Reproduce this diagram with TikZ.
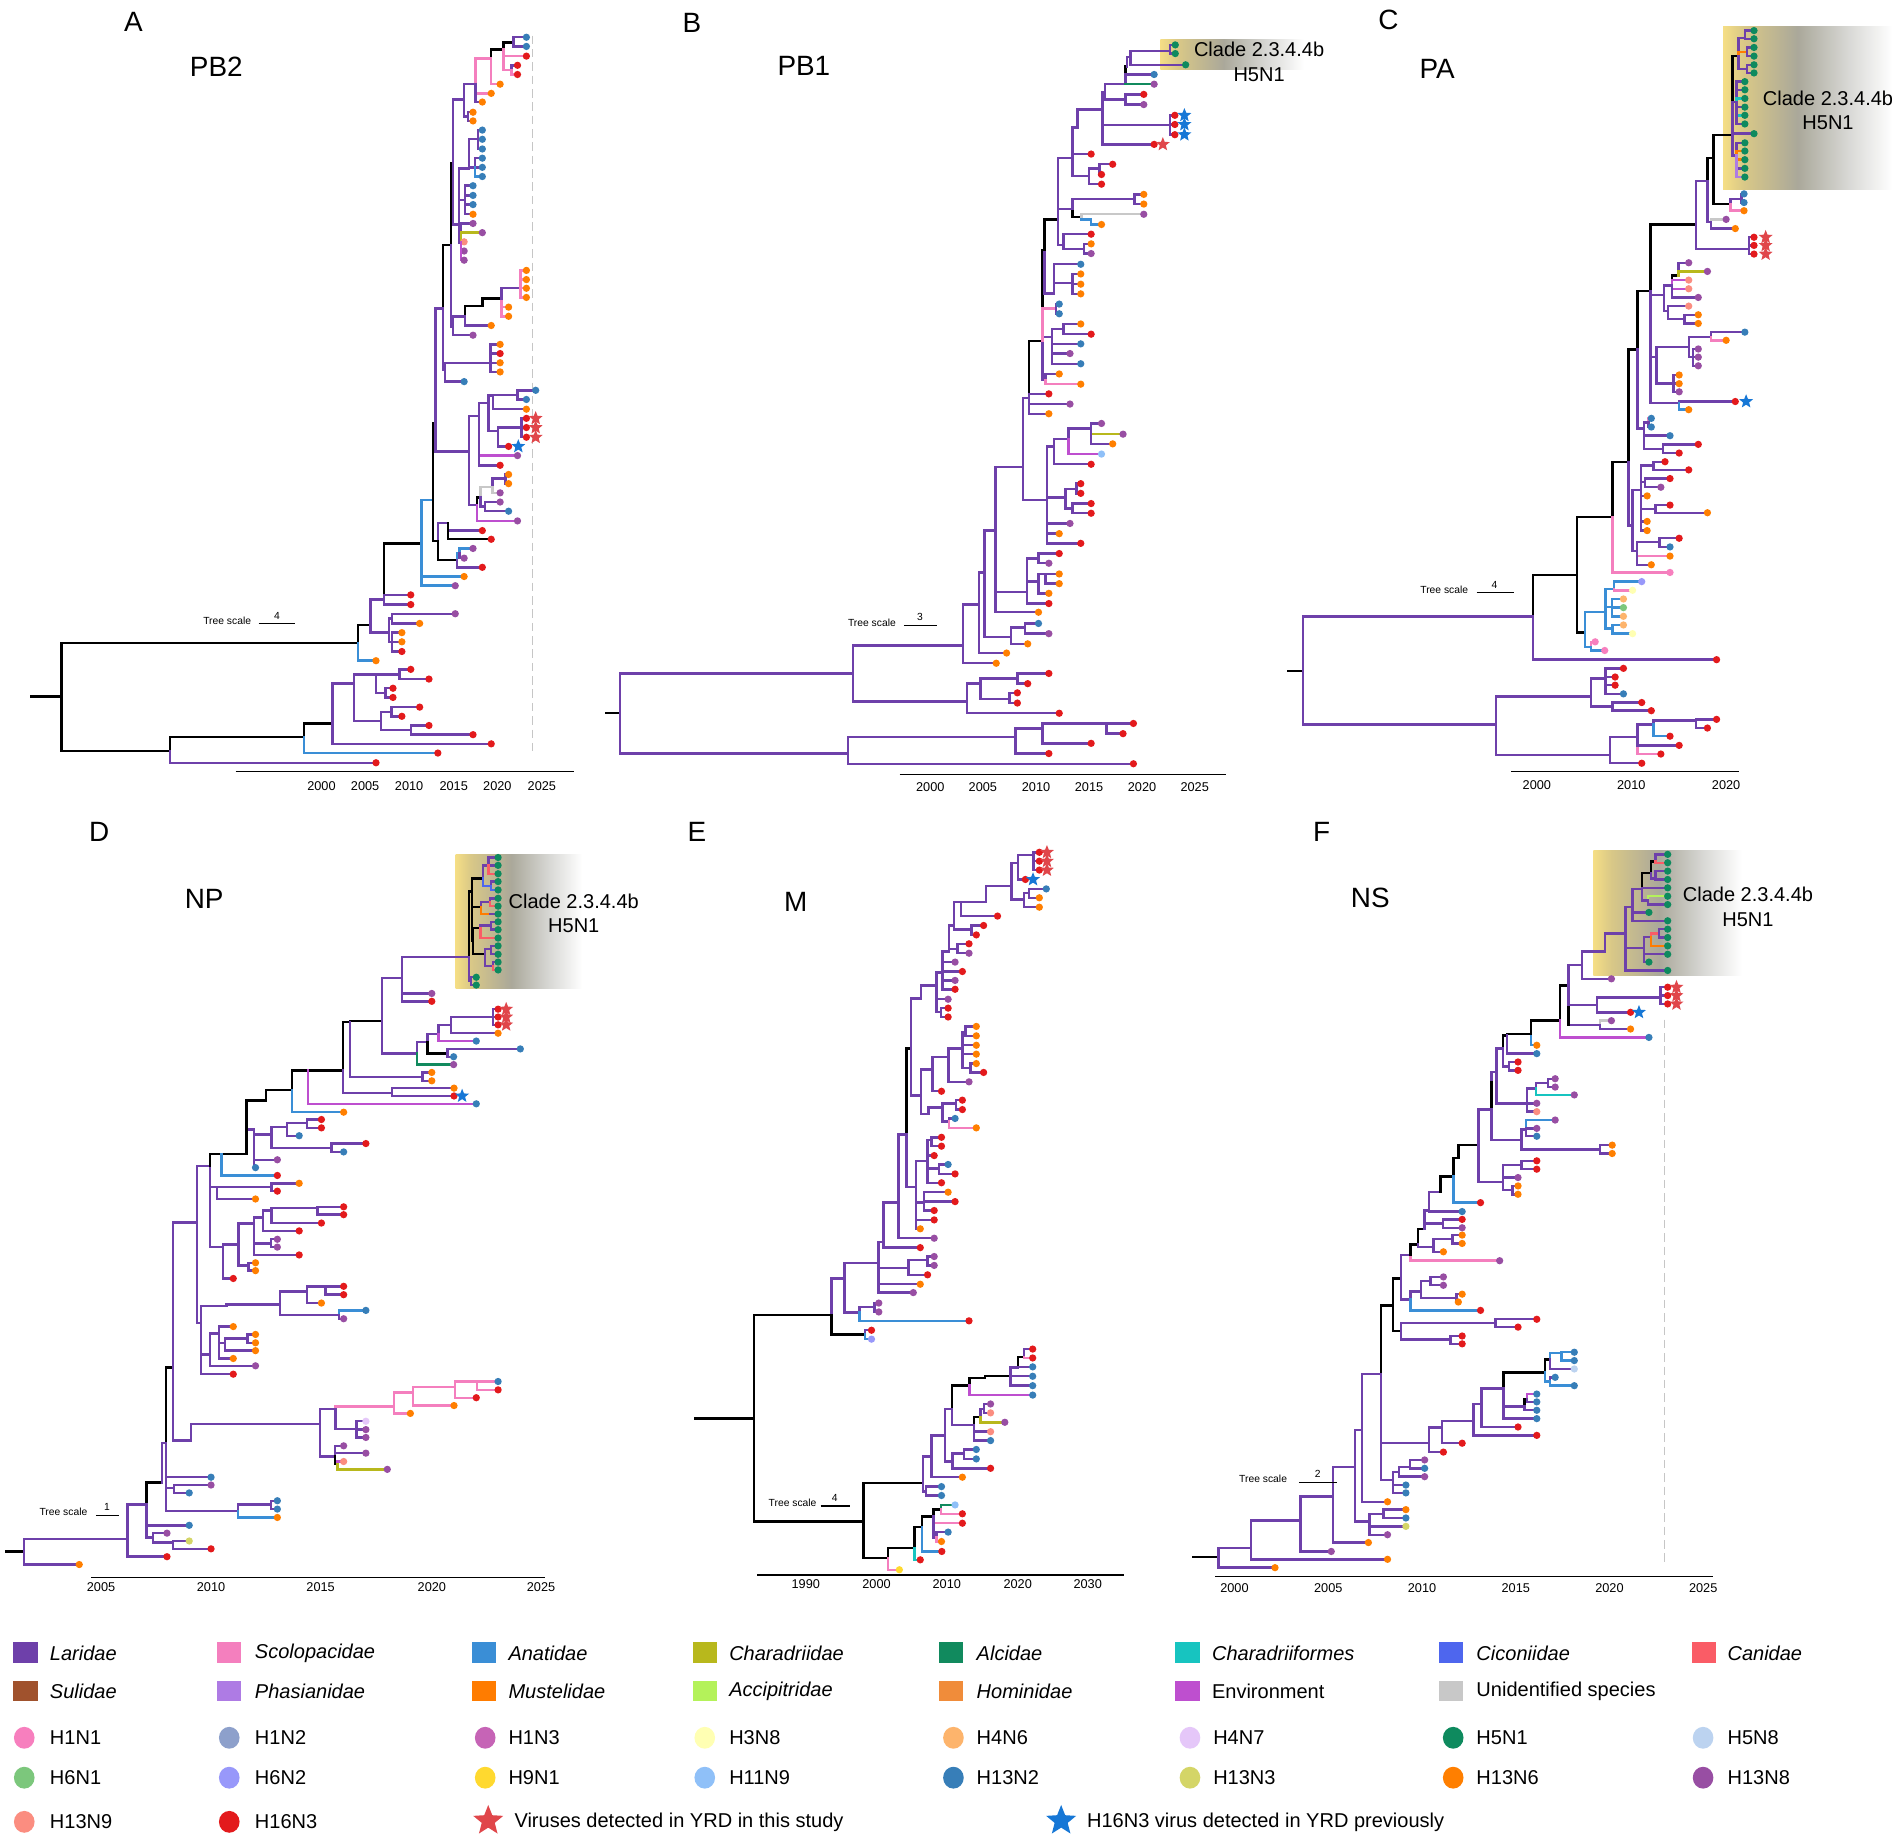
\documentclass[tikz,border=0pt]{standalone}
\usepackage{fontspec}
\setmainfont{Liberation Sans}
\usetikzlibrary{shapes.geometric}
\definecolor{cL}{HTML}{6E40AA}
\definecolor{cK}{HTML}{000000}
\definecolor{cS}{HTML}{F47FBE}
\definecolor{cA}{HTML}{3A8ED6}
\definecolor{cC}{HTML}{B8B81C}
\definecolor{cG}{HTML}{118A5E}
\definecolor{cT}{HTML}{17C4C0}
\definecolor{cCi}{HTML}{4E66EE}
\definecolor{cCa}{HTML}{FA5C66}
\definecolor{cSu}{HTML}{A0522D}
\definecolor{cPh}{HTML}{AE7BE4}
\definecolor{cM}{HTML}{FF7C00}
\definecolor{cAc}{HTML}{B4F25A}
\definecolor{cH}{HTML}{F08C3A}
\definecolor{cE}{HTML}{BE4FCF}
\definecolor{cU}{HTML}{C8C8C8}
\definecolor{dPk}{HTML}{F77FBE}
\definecolor{dHa}{HTML}{8DA0CB}
\definecolor{dHb}{HTML}{C664B6}
\definecolor{dY}{HTML}{FFFFB3}
\definecolor{dPe}{HTML}{FDB46C}
\definecolor{dL}{HTML}{E5C7F9}
\definecolor{dG}{HTML}{0E8A5E}
\definecolor{dHc}{HTML}{BCD3F0}
\definecolor{dGr}{HTML}{7CC77C}
\definecolor{dLP}{HTML}{9898FA}
\definecolor{dHd}{HTML}{FFD92F}
\definecolor{dLB}{HTML}{8FC0F8}
\definecolor{dB}{HTML}{377EB8}
\definecolor{dHe}{HTML}{D4D567}
\definecolor{dO}{HTML}{FF7F00}
\definecolor{dP}{HTML}{984EA3}
\definecolor{dS}{HTML}{FB8D80}
\definecolor{dR}{HTML}{E31A1C}
\definecolor{sR}{HTML}{E0464A}
\definecolor{sB}{HTML}{1677D6}
\definecolor{bY}{HTML}{F5DE85}
\definecolor{bYb}{HTML}{D9C887}
\definecolor{bG}{HTML}{AAA89A}
\definecolor{bGb}{HTML}{D8D8D5}
\pgfdeclarehorizontalshading{clade}{100bp}{color(0bp)=(bY); color(25bp)=(bY); color(31bp)=(bYb); color(47bp)=(bG); color(62bp)=(bGb); color(75bp)=(white); color(100bp)=(white)}
\newcommand\myfs[2]{\fontsize{#1}{#2}\selectfont}
\def\BR#1,#2,#3,#4,#5;{\draw[#5] (#1,#2) |- (#3,#4);}
\def\LF#1,#2,#3,#4,#5,#6;{\draw[#5] (#1,#2) |- (#3,#4);\node[tipdot,fill=#6] at (#3,#4) {};}
\def\RS#1,#2;{\node[rstar] at (#1,#2) {};}
\def\BS#1,#2;{\node[bstar] at (#1,#2) {};}
\tikzset{
  brn/.style={line width=2pt,line cap=rect},
  tipdot/.style={circle,inner sep=0pt,minimum size=6pt,draw=none},
  rstar/.style={star,star points=5,star point ratio=2.3,fill=sR,inner sep=0pt,minimum size=12pt},
  bstar/.style={star,star points=5,star point ratio=2.3,fill=sB,inner sep=0pt,minimum size=12pt},
  ptitle/.style={font=\myfs{23}{27}},
  axl/.style={font=\myfs{10.5}{12}},
  tsl/.style={font=\myfs{8.5}{10}},
  cl/.style={font=\myfs{16.5}{20},align=center},
  legt/.style={font=\myfs{16.5}{20},anchor=west,inner sep=0pt},
  gridl/.style={gray!45,line width=0.8pt,dash pattern=on 7pt off 4pt},
  axline/.style={line width=1pt,black}
}
\begin{document}
\begin{tikzpicture}[x=1pt,y=-1pt]
\fill[white] (0,0) rectangle (1568,1518);
\useasboundingbox (0,0) rectangle (1568,1518);
% clade boxes
\shade[shading=clade] (956.6,32.8) rectangle (1075,57.2);
\shade[shading=clade] (1420.6,21.9) rectangle (1560,156.5);
\shade[shading=clade] (375.6,704.8) rectangle (480,814.7);
\shade[shading=clade] (1313.6,701.3) rectangle (1436,803.9);
% grid lines
\draw[gridl] (438.7,29.4) -- (438.7,622.5);
\draw[gridl] (1372,840.6) -- (1372,1288.9);

%%%%%%%%%%%%%%%% PANEL A
\begin{scope}[brn,xscale=0.3333,yscale=0.4206]
\draw[cK] (78,1365) -- (152,1365);
\BR 152,1365,886,1260,cK;
\BR 152,1365,421,1472,cK;
\BR 421,1472,752,1445,cK;
\LF 421,1472,930,1495,cL,dR;
\BR 752,1445,822,1418,cK;
\LF 752,1445,1083,1476,cA,dR;
\BR 822,1418,876,1340,cL;
\LF 822,1418,1215,1458,cL,dR;
\BR 876,1340,930,1322,cL;
\BR 876,1340,942,1413,cL;
\BR 930,1322,988,1322,cL;
\LF 988,1322,1016,1312,cL,dR;
\LF 988,1322,1061,1331,cL,dR;
\BR 930,1322,953,1358,cL;
\LF 953,1358,972,1349,cL,dR;
\LF 953,1358,972,1367,cL,dR;
\BR 942,1413,968,1395,cL;
\LF 968,1395,1038,1386,cL,dR;
\LF 968,1395,994,1404,cL,dR;
\BR 942,1413,1016,1431,cL;
\LF 1016,1431,1061,1422,cL,dR;
\LF 1016,1431,1170,1440,cL,dR;
\BR 886,1260,916,1225,cK;
\LF 886,1260,930,1295,cA,dO;
\BR 916,1225,950,1175,cL;
\BR 916,1225,962,1240,cL;
\BR 962,1240,970,1212,cL;
\LF 970,1212,1126,1203,cL,dP;
\LF 970,1212,1038,1222,cL,dO;
\BR 962,1240,970,1258,cL;
\LF 970,1258,994,1240,cL,dO;
\LF 970,1258,994,1258,cL,dO;
\LF 970,1258,994,1277,cL,dR;
\BR 950,1175,987,1065,cK;
\LF 950,1175,1016,1166,cL,dR;
\LF 950,1175,1016,1185,cL,dR;
\BR 987,1065,1043,1065,cK;
\BR 1043,1065,1071,980,cA;
\LF 1043,1065,1148,1130,cA,dO;
\LF 1043,1065,1126,1148,cA,dP;
\BR 1071,980,1077,830,cK;
\BR 1071,980,1083,1060,cK;
\BR 1083,1060,1108,1025,cL;
\BR 1083,1060,1130,1098,cK;
\LF 1108,1025,1193,1040,cL,dR;
\LF 1108,1025,1215,1057,cK,dR;
\BR 1130,1098,1137,1085,cA;
\LF 1137,1085,1170,1075,cA,dP;
\LF 1137,1085,1148,1094,cL,dP;
\LF 1130,1098,1193,1112,cL,dR;
\BR 1077,830,1096,605,cL;
\BR 1077,830,1160,885,cL;
\BR 1160,885,1185,815,cL;
\BR 1160,885,1180,990,cL;
\BR 1180,990,1188,975,cK;
\LF 1180,990,1280,1021,cE,dP;
\BR 1188,975,1218,955,cU;
\BR 1218,955,1250,938,cL;
\LF 1250,938,1258,930,cL,dO;
\LF 1250,938,1258,948,cL,dO;
\LF 1218,955,1237,966,cU,dP;
\BR 1188,975,1200,993,cL;
\LF 1200,993,1237,984,cL,dP;
\LF 1200,993,1258,1002,cL,dB;
\BR 1185,815,1208,790,cL;
\LF 1185,815,1280,893,cE,dP;
\LF 1185,815,1237,912,cL,dR;
\BR 1208,790,1220,775,cL;
\BR 1208,790,1232,845,cL;
\BR 1220,775,1280,774,cL;
\LF 1280,774,1325,765,cL,dB;
\LF 1280,774,1302,783,cL,dB;
\LF 1220,775,1302,802,cL,dO;
\BR 1232,845,1290,838,cL;
\LF 1290,838,1302,820,cL,dR;
\LF 1290,838,1302,838,cL,dR;
\LF 1290,838,1302,857,cL,dR;
\LF 1232,845,1258,875,cL,dR;
\BR 1096,605,1115,480,cK;
\BR 1096,605,1100,725,cL;
\BR 1100,725,1213,712,cL;
\LF 1213,712,1237,675,cL,dO;
\LF 1213,712,1237,693,cL,dR;
\LF 1213,712,1237,711,cL,dO;
\LF 1213,712,1237,729,cL,dO;
\LF 1100,725,1148,748,cL,dB;
\BR 1115,480,1120,320,cK;
\BR 1115,480,1120,640,cL;
\BR 1120,640,1150,620,cL;
\LF 1120,640,1170,657,cL,dP;
\BR 1150,620,1193,600,cK;
\LF 1150,620,1215,638,cL,dO;
\BR 1193,600,1240,585,cK;
\LF 1240,585,1258,602,cS,dO;
\LF 1240,585,1258,620,cS,dO;
\BR 1240,585,1287,565,cL;
\LF 1287,565,1302,530,cS,dO;
\LF 1287,565,1302,548,cS,dO;
\LF 1287,565,1302,565,cS,dO;
\LF 1287,565,1302,583,cS,dO;
\BR 1120,320,1148,195,cL;
\BR 1120,320,1135,440,cL;
\BR 1148,195,1176,165,cL;
\BR 1148,195,1157,228,cL;
\LF 1157,228,1170,220,cL,dO;
\LF 1157,228,1170,237,cL,dO;
\BR 1176,165,1215,115,cS;
\LF 1176,165,1215,183,cS,dO;
\LF 1176,165,1193,200,cL,dO;
\BR 1215,115,1245,97,cK;
\LF 1215,115,1237,165,cS,dO;
\BR 1245,97,1270,83,cK;
\LF 1270,83,1302,73,cL,dB;
\LF 1270,83,1302,91,cL,dB;
\LF 1245,97,1302,110,cS,dR;
\BR 1245,97,1265,137,cS;
\LF 1265,137,1280,128,cL,dR;
\LF 1265,137,1280,146,cS,dR;
\BR 1135,440,1160,330,cL;
\BR 1160,330,1182,272,cL;
\LF 1182,272,1193,255,cL,dB;
\LF 1182,272,1193,273,cL,dB;
\LF 1182,272,1193,292,cL,dB;
\BR 1160,330,1175,328,cL;
\LF 1175,328,1193,310,cL,dB;
\LF 1175,328,1193,328,cL,dB;
\LF 1175,328,1193,346,cA,dB;
\BR 1135,440,1150,392,cL;
\LF 1150,392,1170,364,cL,dB;
\LF 1150,392,1170,383,cL,dB;
\LF 1150,392,1170,401,cL,dB;
\LF 1150,392,1170,420,cL,dO;
\BR 1135,440,1140,475,cL;
\LF 1140,475,1170,438,cL,dP;
\LF 1140,475,1193,456,cC,dP;
\LF 1140,475,1148,474,cL,dS;
\LF 1140,475,1148,492,cL,dP;
\LF 1140,475,1148,510,cE,dP;
\RS 1325,820; \RS 1325,838; \RS 1325,857;
\BS 1282,875;
\end{scope}

%%%%%%%%%%%%%%%% PANEL B
\begin{scope}[brn,shift={(494.6,0)}]
\begin{scope}[xscale=0.3417,yscale=0.4206]
\draw[cK] (15,1398) -- (48,1398);
\BR 48,1398,610,1320,cL;
\BR 48,1398,598,1477,cL;
\BR 598,1477,1002,1445,cL;
\LF 598,1477,1287,1497,cL,dR;
\BR 1002,1445,1068,1428,cL;
\LF 1002,1445,1083,1477,cL,dR;
\BR 1068,1428,1222,1418,cL;
\LF 1068,1428,1185,1457,cL,dR;
\LF 1222,1418,1287,1418,cL,dR;
\LF 1222,1418,1262,1438,cL,dR;
\BR 610,1320,876,1265,cL;
\BR 610,1320,886,1375,cL;
\BR 886,1375,918,1340,cL;
\LF 886,1375,1108,1398,cL,dR;
\BR 918,1340,1007,1330,cL;
\BR 918,1340,988,1370,cL;
\LF 1007,1330,1083,1320,cL,dR;
\LF 1007,1330,1032,1340,cL,dR;
\LF 988,1370,1007,1358,cL,dR;
\LF 988,1370,1007,1378,cL,dR;
\BR 876,1265,914,1185,cL;
\LF 876,1265,956,1300,cL,dO;
\BR 914,1185,928,1122,cL;
\LF 914,1185,981,1280,cL,dO;
\BR 928,1122,954,1040,cL;
\BR 928,1122,992,1248,cL;
\BR 992,1248,1025,1230,cL;
\LF 1025,1230,1058,1222,cL,dB;
\LF 1025,1230,1083,1242,cL,dP;
\LF 992,1248,1032,1262,cL,dO;
\BR 954,1040,1020,915,cL;
\LF 954,1040,1058,1200,cL,dO;
\BR 954,1040,1030,1160,cL;
\BR 1030,1160,1058,1140,cL;
\BR 1058,1140,1075,1125,cL;
\LF 1075,1125,1108,1125,cL,dO;
\LF 1075,1125,1108,1144,cL,dO;
\LF 1058,1140,1083,1163,cL,dO;
\LF 1030,1160,1083,1183,cL,dR;
\BR 1030,1160,1058,1095,cL;
\LF 1058,1095,1108,1085,cL,dR;
\LF 1058,1095,1083,1104,cL,dP;
\BR 1020,915,1035,780,cL;
\BR 1020,915,1078,980,cL;
\BR 1078,980,1096,875,cL;
\LF 1078,980,1108,1046,cL,dO;
\LF 1078,980,1134,1026,cL,dP;
\LF 1078,980,1160,1065,cL,dR;
\BR 1078,980,1123,975,cL;
\BR 1123,975,1150,958,cL;
\LF 1150,958,1160,948,cL,dR;
\LF 1150,958,1160,967,cL,dR;
\BR 1123,975,1140,997,cL;
\LF 1140,997,1185,987,cL,dR;
\LF 1140,997,1185,1006,cL,dR;
\BR 1096,875,1130,860,cL;
\LF 1096,875,1185,910,cL,dR;
\BR 1130,860,1185,840,cL;
\LF 1185,840,1210,830,cL,dP;
\LF 1185,840,1262,851,cC,dP;
\LF 1185,840,1237,870,cL,dO;
\LF 1130,860,1210,890,cE,dLB;
\BR 1035,780,1045,668,cK;
\LF 1035,780,1083,772,cL,dR;
\LF 1035,780,1134,792,cL,dP;
\LF 1035,780,1083,811,cL,dO;
\BR 1045,668,1068,668,cK;
\BR 1068,668,1075,745,cL;
\LF 1075,745,1108,733,cL,dO;
\LF 1075,745,1160,753,cS,dO;
\BR 1068,668,1090,660,cL;
\BR 1090,660,1118,645,cL;
\LF 1118,645,1160,635,cL,dO;
\LF 1118,645,1185,655,cL,dR;
\LF 1090,660,1134,693,cL,dP;
\LF 1090,660,1160,674,cL,dB;
\LF 1090,660,1160,713,cL,dB;
\BR 1068,668,1072,490,cK;
\BR 1068,668,1100,605,cS;
\LF 1100,605,1108,596,cL,dB;
\LF 1100,605,1108,615,cL,dB;
\BR 1072,490,1095,575,cL;
\BR 1095,575,1140,555,cL;
\LF 1140,555,1160,537,cL,dO;
\LF 1140,555,1160,557,cL,dO;
\LF 1140,555,1160,576,cL,dO;
\LF 1095,575,1160,518,cL,dB;
\BR 1072,490,1105,430,cK;
\BR 1105,430,1118,480,cL;
\LF 1118,480,1185,459,cL,dR;
\BR 1118,480,1168,488,cL;
\LF 1168,488,1185,478,cL,dO;
\LF 1168,488,1185,497,cL,dP;
\BR 1105,430,1140,410,cL;
\BR 1140,410,1162,425,cK;
\BR 1162,425,1185,430,cA;
\LF 1185,430,1210,440,cA,dO;
\LF 1162,425,1312,420,cU,dP;
\BR 1140,410,1165,390,cL;
\BR 1165,390,1290,390,cL;
\LF 1290,390,1312,381,cL,dO;
\LF 1290,390,1312,400,cL,dO;
\BR 1105,430,1140,310,cL;
\LF 1140,310,1185,302,cL,dR;
\BR 1140,310,1180,345,cL;
\BR 1180,345,1205,330,cL;
\LF 1205,330,1237,322,cL,dR;
\LF 1205,330,1210,342,cL,dR;
\LF 1180,345,1210,361,cL,dR;
\BR 1140,310,1152,250,cL;
\BR 1152,250,1212,215,cL;
\BR 1212,215,1218,180,cL;
\BR 1212,215,1375,245,cL;
\LF 1212,215,1337,283,cL,dR;
\LF 1375,245,1387,226,cL,dR;
\LF 1375,245,1387,244,cL,dR;
\LF 1375,245,1387,264,cL,dR;
\BR 1218,180,1268,165,cL;
\BR 1268,165,1272,130,cK;
\LF 1268,165,1337,146,cL,dB;
\LF 1268,165,1337,165,cG,dP;
\BR 1218,180,1268,195,cL;
\LF 1268,195,1312,185,cL,dR;
\LF 1268,195,1312,205,cL,dP;
\BR 1272,130,1280,112,cL;
\BR 1280,112,1375,100,cL;
\LF 1375,100,1388,88,cL,dG;
\LF 1375,100,1388,105,cL,dG;
\LF 1280,112,1413,127,cL,dG;
\BS 1410,226; \BS 1410,244; \BS 1410,264;
\RS 1358,283;
\end{scope}
\end{scope}

%%%%%%%%%%%%%%%% PANEL C
\begin{scope}[brn,shift={(1030.5,0)}]
\begin{scope}[xscale=0.3428,yscale=0.4206]
\draw[cK] (93,1315) -- (127,1315);
\BR 127,1315,680,1208,cL;
\BR 127,1315,591,1420,cL;
\BR 591,1420,820,1365,cL;
\BR 591,1420,866,1480,cL;
\BR 820,1365,855,1330,cL;
\LF 855,1330,898,1310,cL,dR;
\LF 855,1330,878,1327,cL,dR;
\LF 855,1330,878,1343,cL,dR;
\LF 855,1330,898,1360,cL,dB;
\BR 820,1365,872,1385,cL;
\LF 872,1385,942,1377,cL,dR;
\LF 872,1385,965,1393,cL,dR;
\BR 866,1480,932,1445,cL;
\LF 866,1480,942,1496,cL,dR;
\BR 932,1445,970,1420,cL;
\LF 932,1445,988,1478,cS,dR;
\LF 932,1445,1032,1461,cL,dR;
\BR 970,1420,1072,1412,cL;
\LF 1072,1412,1122,1410,cL,dR;
\LF 1072,1412,1100,1427,cL,dR;
\LF 970,1420,1010,1443,cA,dR;
\BR 680,1208,787,1127,cK;
\LF 680,1208,1122,1293,cL,dR;
\BR 787,1127,872,1013,cK;
\BR 787,1127,806,1240,cK;
\BR 806,1240,855,1200,cA;
\BR 806,1240,820,1268,cA;
\LF 820,1268,830,1258,cS,dPk;
\LF 820,1268,853,1275,cA,dPk;
\BR 855,1200,875,1155,cA;
\LF 875,1155,942,1140,cA,dLP;
\LF 875,1155,920,1157,cS,dY;
\BR 855,1200,870,1190,cA;
\LF 870,1190,898,1174,cA,dPe;
\LF 870,1190,898,1191,cA,dGr;
\LF 870,1190,898,1208,cA,dPe;
\BR 855,1200,872,1232,cA;
\LF 872,1232,898,1225,cA,dPe;
\LF 872,1232,920,1242,cA,dY;
\BR 872,1013,910,905,cK;
\LF 872,1013,1010,1122,cS,dPk;
\BR 910,905,932,685,cK;
\BR 910,905,920,1030,cL;
\BR 920,1030,940,960,cL;
\BR 940,960,970,912,cL;
\LF 970,912,998,905,cL,dR;
\LF 970,912,1055,921,cL,dR;
\BR 940,960,950,945,cL;
\LF 950,945,1010,938,cL,dR;
\LF 950,945,988,955,cL,dP;
\LF 940,960,955,972,cL,dO;
\BR 940,960,975,998,cL;
\LF 975,998,1010,990,cL,dR;
\LF 975,998,1100,1005,cL,dO;
\LF 940,960,955,1022,cL,dO;
\LF 940,960,955,1040,cL,dO;
\BR 920,1030,930,1080,cL;
\BR 930,1080,985,1062,cL;
\LF 985,1062,1032,1055,cL,dR;
\LF 985,1062,1010,1072,cL,dB;
\LF 930,1080,1010,1090,cS,dO;
\LF 930,1080,965,1107,cL,dO;
\BR 932,685,963,570,cK;
\BR 963,570,1073,440,cK;
\BR 963,570,995,578,cL;
\BR 995,578,1015,560,cL;
\BR 1015,560,1030,540,cK;
\LF 1030,540,1055,515,cL,dP;
\LF 1030,540,1100,532,cC,dP;
\LF 1015,560,1055,549,cE,dS;
\LF 1015,560,1055,566,cE,dS;
\LF 1015,560,1078,583,cL,dP;
\BR 995,578,1005,610,cL;
\LF 1005,610,1055,600,cL,dS;
\BR 1005,610,1045,625,cL;
\LF 1045,625,1078,617,cL,dO;
\LF 1045,625,1078,634,cL,dO;
\BR 963,570,978,700,cL;
\BR 978,700,1055,680,cL;
\BR 1055,680,1108,660,cL;
\LF 1108,660,1190,651,cL,dB;
\LF 1108,660,1145,667,cS,dO;
\BR 1055,680,1065,700,cL;
\LF 1065,700,1078,684,cL,dP;
\LF 1065,700,1078,700,cL,dP;
\LF 1065,700,1078,717,cL,dP;
\BR 978,700,1018,752,cL;
\LF 1018,752,1032,735,cL,dO;
\LF 1018,752,1032,752,cL,dO;
\LF 1018,752,1032,768,cL,dP;
\BR 963,570,1032,790,cL;
\LF 1032,790,1167,787,cL,dR;
\LF 1032,790,1055,803,cA,dO;
\BR 932,685,948,840,cL;
\BR 948,840,958,828,cL;
\LF 958,828,965,820,cS,dB;
\LF 958,828,965,837,cL,dB;
\LF 948,840,1010,854,cL,dB;
\BR 948,840,993,880,cL;
\LF 993,880,1078,871,cL,dR;
\LF 993,880,1032,888,cL,dR;
\BR 1073,440,1100,355,cL;
\BR 1073,440,1200,488,cL;
\LF 1200,488,1212,465,cL,dR;
\LF 1200,488,1212,481,cL,dR;
\LF 1200,488,1212,498,cL,dR;
\BR 1100,355,1115,310,cK;
\BR 1100,355,1108,435,cL;
\LF 1108,435,1145,430,cU,dP;
\LF 1108,435,1167,448,cL,dO;
\BR 1115,310,1160,265,cK;
\BR 1115,310,1155,400,cK;
\BR 1155,400,1182,390,cL;
\LF 1182,390,1188,380,cL,dB;
\LF 1182,390,1188,397,cL,dB;
\LF 1155,400,1188,413,cS,dO;
\BR 1160,265,1175,110,cK;
\BR 1175,110,1190,75,cL;
\LF 1190,75,1212,60,cL,dG;
\LF 1190,75,1212,76,cL,dG;
\BR 1175,110,1195,102,cM;
\LF 1195,102,1212,93,cL,dG;
\LF 1195,102,1212,110,cL,dG;
\BR 1175,110,1195,135,cL;
\LF 1195,135,1212,127,cL,dG;
\LF 1195,135,1212,143,cL,dG;
\BR 1160,265,1170,200,cL;
\LF 1170,200,1190,160,cL,dG;
\LF 1170,200,1190,176,cL,dG;
\LF 1170,200,1190,193,cT,dG;
\LF 1170,200,1190,210,cL,dG;
\LF 1170,200,1190,226,cT,dG;
\LF 1170,200,1190,243,cL,dG;
\LF 1160,265,1212,262,cL,dG;
\BR 1160,265,1170,305,cL;
\LF 1170,305,1190,280,cL,dG;
\LF 1170,305,1190,296,cM,dG;
\LF 1170,305,1190,313,cM,dG;
\LF 1170,305,1190,330,cL,dG;
\LF 1170,305,1190,347,cPh,dG;
\RS 1240,465; \RS 1240,481; \RS 1240,498;
\BS 1193,787;
\end{scope}
\end{scope}

%%%%%%%%%%%%%%%% PANEL D
\begin{scope}[brn,shift={(0,659.5)}]
\begin{scope}[xscale=0.3333,yscale=0.4311]
\draw[cK] (15,1437) -- (60,1437);
\BR 60,1437,315,1413,cL;
\LF 60,1437,196,1462,cL,dO;
\BR 315,1413,362,1347,cL;
\LF 315,1413,413,1447,cL,dR;
\BR 362,1347,400,1305,cK;
\BR 362,1347,378,1410,cL;
\LF 378,1410,413,1402,cL,dP;
\BR 378,1410,428,1420,cL;
\LF 428,1420,468,1417,cL,dHe;
\LF 428,1420,522,1432,cL,dR;
\LF 362,1347,468,1387,cL,dB;
\BR 400,1305,410,1230,cL;
\BR 410,1230,428,1085,cK;
\BR 410,1230,430,1316,cL;
\LF 430,1316,522,1310,cL,dP;
\LF 430,1316,468,1325,cL,dB;
\LF 410,1230,522,1295,cL,dB;
\BR 410,1230,588,1360,cL;
\BR 588,1360,670,1347,cL;
\LF 670,1347,686,1340,cL,dB;
\LF 670,1347,686,1356,cL,dB;
\LF 588,1360,686,1372,cA,dO;
\BR 428,1085,487,808,cL;
\BR 428,1085,472,1225,cL;
\BR 472,1225,792,1193,cL;
\BR 792,1193,830,1165,cL;
\BR 830,1165,975,1160,cS;
\BR 975,1160,1022,1133,cS;
\BR 1022,1133,1125,1122,cS;
\BR 1125,1122,1180,1112,cS;
\LF 1180,1112,1232,1112,cS,dB;
\LF 1180,1112,1232,1128,cS,dR;
\LF 1125,1122,1178,1143,cS,dR;
\LF 1022,1133,1123,1158,cS,dO;
\LF 975,1160,1015,1173,cS,dO;
\BR 830,1165,882,1203,cL;
\LF 882,1203,905,1188,cL,dL;
\LF 882,1203,905,1204,cL,dP;
\LF 882,1203,905,1219,cL,dP;
\BR 792,1193,828,1255,cL;
\LF 828,1255,850,1235,cL,dP;
\LF 828,1255,905,1249,cL,dP;
\BR 828,1255,835,1270,cK;
\LF 835,1270,850,1265,cE,dS;
\LF 835,1270,958,1280,cC,dP;
\BR 487,808,520,700,cL;
\BR 487,808,497,1000,cL;
\BR 497,1000,560,968,cL;
\BR 560,968,692,965,cL;
\BR 692,965,760,940,cL;
\BR 760,940,805,930,cL;
\LF 805,930,850,930,cL,dR;
\LF 805,930,850,946,cL,dR;
\LF 760,940,795,962,cL,dO;
\BR 692,965,838,985,cL;
\LF 838,985,905,976,cA,dB;
\LF 838,985,850,992,cL,dP;
\BR 497,1000,520,1060,cL;
\BR 520,1060,542,1020,cL;
\LF 542,1020,577,1007,cL,dO;
\BR 542,1020,557,1038,cL;
\BR 557,1038,612,1030,cL;
\LF 612,1030,632,1022,cL,dO;
\LF 612,1030,632,1038,cL,dO;
\LF 557,1038,632,1053,cL,dO;
\LF 542,1020,577,1068,cL,dO;
\LF 520,1060,632,1082,cL,dP;
\LF 497,1000,577,1098,cL,dR;
\BR 520,700,552,855,cL;
\BR 552,855,590,850,cL;
\LF 552,855,577,915,cL,dR;
\BR 590,850,615,890,cL;
\LF 615,890,632,885,cL,dO;
\LF 615,890,632,900,cL,dO;
\BR 590,850,628,810,cL;
\BR 628,810,651,798,cL;
\BR 651,798,672,785,cL;
\BR 672,785,785,780,cL;
\LF 785,780,850,778,cL,dR;
\LF 785,780,850,793,cL,dR;
\LF 672,785,795,809,cL,dR;
\LF 651,798,740,824,cL,dR;
\BR 628,810,670,848,cL;
\LF 670,848,686,840,cL,dP;
\LF 670,848,686,855,cL,dP;
\LF 628,810,740,870,cL,dR;
\BR 520,700,537,740,cL;
\BR 537,740,672,740,cL;
\LF 672,740,740,733,cL,dO;
\LF 672,740,686,748,cL,dR;
\LF 537,740,632,763,cL,dO;
\BR 520,700,548,677,cK;
\BR 548,677,610,677,cK;
\LF 548,677,686,718,cA,dR;
\BR 610,677,628,630,cL;
\LF 628,630,686,688,cL,dP;
\LF 628,630,632,703,cL,dB;
\BR 628,630,672,640,cL;
\BR 672,640,710,625,cL;
\BR 710,625,760,618,cL;
\LF 760,618,795,611,cL,dR;
\LF 760,618,795,627,cL,dR;
\LF 710,625,740,642,cL,dB;
\BR 672,640,820,665,cL;
\LF 820,665,905,657,cL,dR;
\LF 820,665,850,673,cL,dB;
\BR 610,677,658,575,cK;
\BR 658,575,722,555,cK;
\BR 722,555,762,517,cK;
\LF 722,555,850,597,cA,dO;
\BR 762,517,848,517,cK;
\LF 762,517,1178,581,cE,dB;
\BR 848,517,865,425,cK;
\BR 848,517,970,560,cL;
\LF 970,560,1123,551,cL,dO;
\LF 970,560,1123,566,cL,dR;
\BR 865,425,945,423,cK;
\BR 865,425,1045,530,cL;
\LF 1045,530,1068,521,cL,dO;
\LF 1045,530,1068,537,cL,dO;
\BR 945,423,995,340,cL;
\BR 945,423,1032,485,cL;
\BR 1032,485,1057,463,cL;
\LF 1032,485,1122,506,cG,dP;
\BR 1057,463,1085,447,cL;
\BR 1085,447,1115,430,cL;
\BR 1115,430,1220,415,cL;
\LF 1220,415,1232,400,cL,dR;
\LF 1220,415,1232,415,cL,dR;
\LF 1220,415,1232,430,cL,dR;
\LF 1115,430,1232,446,cL,dO;
\LF 1085,447,1178,461,cE,dB;
\BR 1057,463,1107,485,cK;
\LF 1107,485,1287,476,cL,dB;
\LF 1107,485,1122,491,cL,dB;
\BR 995,340,1035,300,cL;
\LF 995,340,1068,370,cL,dP;
\LF 995,340,1068,385,cL,dR;
\BR 1035,300,1160,300,cL;
\BR 1160,300,1168,175,cK;
\BR 1160,300,1165,345,cL;
\LF 1165,345,1178,339,cL,dG;
\LF 1165,345,1178,354,cL,dG;
\BR 1168,175,1195,150,cK;
\BR 1195,150,1208,125,cL;
\LF 1208,125,1232,110,cL,dG;
\LF 1208,125,1232,125,cL,dG;
\LF 1208,125,1232,141,cCa,dG;
\BR 1195,150,1215,164,cCi;
\LF 1215,164,1232,156,cL,dG;
\LF 1215,164,1232,172,cCi,dG;
\BR 1168,175,1190,205,cK;
\BR 1190,205,1212,195,cL;
\LF 1212,195,1232,188,cL,dG;
\LF 1212,195,1232,203,cCa,dG;
\BR 1190,205,1212,218,cM;
\LF 1212,218,1232,218,cL,dG;
\BR 1168,175,1170,270,cK;
\BR 1170,270,1188,245,cK;
\BR 1188,245,1215,240,cL;
\LF 1215,240,1232,233,cL,dG;
\LF 1215,240,1232,248,cL,dG;
\LF 1188,245,1232,264,cCa,dG;
\BR 1170,270,1200,295,cK;
\BR 1200,295,1215,285,cL;
\LF 1215,285,1232,279,cL,dG;
\LF 1215,285,1232,295,cL,dG;
\BR 1200,295,1220,317,cL;
\LF 1220,317,1232,310,cL,dG;
\LF 1220,317,1232,325,cCa,dG;
\RS 1252,400; \RS 1252,415; \RS 1252,430;
\BS 1143,566;
\end{scope}
\end{scope}

%%%%%%%%%%%%%%%% PANEL E
\begin{scope}[brn,shift={(522.7,659.5)}]
\begin{scope}[xscale=0.2734,yscale=0.4311]
\draw[cK] (185,1183) -- (362,1183);
\BR 362,1183,595,985,cK;
\BR 362,1183,692,1380,cK;
\BR 595,985,635,915,cL;
\BR 595,985,697,1022,cK;
\LF 697,1022,716,1014,cL,dR;
\LF 697,1022,716,1031,cA,dLP;
\BR 635,915,680,980,cL;
\BR 680,980,725,970,cL;
\LF 725,970,738,962,cL,dP;
\LF 725,970,738,979,cL,dP;
\LF 680,980,1010,996,cA,dR;
\BR 635,915,737,885,cL;
\LF 737,885,842,942,cL,dP;
\BR 737,885,828,895,cL;
\BR 828,895,885,880,cL;
\LF 885,880,905,873,cL,dP;
\LF 885,880,905,890,cL,dP;
\LF 828,895,885,908,cL,dR;
\LF 737,885,863,926,cL,dO;
\BR 737,885,752,845,cL;
\LF 752,845,863,856,cL,dR;
\BR 752,845,798,770,cL;
\LF 798,770,905,838,cL,dP;
\BR 798,770,822,640,cL;
\BR 822,640,835,475,cK;
\BR 822,640,850,740,cL;
\BR 850,740,885,690,cL;
\BR 885,690,897,650,cL;
\LF 897,650,927,645,cL,dR;
\LF 897,650,927,662,cL,dR;
\LF 885,690,905,680,cL,dR;
\BR 885,690,920,705,cL;
\LF 920,705,947,697,cL,dB;
\LF 920,705,968,715,cL,dR;
\LF 885,690,927,732,cL,dR;
\BR 850,740,875,770,cL;
\LF 875,770,947,750,cL,dO;
\LF 875,770,968,768,cL,dR;
\LF 875,770,905,785,cL,dR;
\LF 850,740,905,803,cL,dR;
\LF 850,740,863,820,cL,dO;
\BR 835,475,865,380,cL;
\BR 835,475,865,565,cL;
\BR 865,565,900,515,cL;
\BR 865,565,888,600,cL;
\BR 900,515,948,492,cL;
\BR 948,492,990,475,cL;
\BR 990,475,1000,445,cL;
\LF 1000,445,1032,433,cL,dO;
\LF 1000,445,1032,451,cL,dO;
\LF 990,475,1032,469,cL,dO;
\LF 990,475,1032,486,cL,dO;
\BR 990,475,1015,512,cL;
\LF 1015,512,1032,504,cL,dO;
\LF 1015,512,1054,521,cL,dR;
\LF 948,492,1010,539,cL,dP;
\LF 900,515,927,557,cL,dR;
\BR 888,600,930,588,cL;
\BR 930,588,970,580,cL;
\LF 970,580,990,574,cL,dR;
\LF 970,580,990,592,cL,dR;
\BR 930,588,950,615,cL;
\LF 950,615,968,609,cL,dB;
\LF 950,615,1032,627,cS,dO;
\BR 865,380,912,355,cL;
\BR 912,355,930,330,cL;
\BR 912,355,925,405,cL;
\LF 925,405,947,398,cL,dR;
\LF 925,405,947,415,cL,dR;
\LF 912,355,947,381,cL,dP;
\LF 930,330,968,310,cL,dP;
\LF 930,330,990,328,cL,dR;
\LF 930,330,968,345,cL,dP;
\LF 930,330,968,362,cL,dR;
\BR 930,330,950,290,cL;
\BR 950,290,965,240,cL;
\BR 950,290,975,285,cL;
\LF 975,285,1010,275,cL,dR;
\LF 975,285,1010,293,cL,dP;
\BR 965,240,985,195,cL;
\BR 965,240,1018,248,cL;
\LF 1018,248,1054,240,cL,dR;
\LF 1018,248,1032,258,cL,dR;
\BR 985,195,1062,195,cL;
\LF 985,195,1096,222,cL,dR;
\BR 1062,195,1138,165,cL;
\BR 1138,165,1158,120,cL;
\BR 1158,120,1205,105,cL;
\LF 1205,105,1222,100,cL,dR;
\LF 1205,105,1222,117,cL,dR;
\LF 1205,105,1222,134,cL,dR;
\LF 1158,120,1180,152,cL,dR;
\BR 1138,165,1176,190,cL;
\BR 1176,190,1190,178,cL;
\LF 1190,178,1243,170,cL,dB;
\LF 1190,178,1222,187,cL,dO;
\LF 1176,190,1222,205,cL,dO;
\BR 692,1380,872,1306,cK;
\BR 692,1380,765,1450,cK;
\BR 872,1306,897,1255,cL;
\BR 872,1306,880,1322,cL;
\LF 880,1322,927,1313,cL,dB;
\LF 880,1322,927,1330,cL,dB;
\BR 897,1255,938,1215,cL;
\LF 897,1255,990,1295,cL,dO;
\BR 938,1215,958,1165,cL;
\BR 938,1215,960,1265,cL;
\BR 960,1265,995,1250,cL;
\LF 995,1250,1032,1242,cL,dB;
\LF 995,1250,1032,1260,cL,dB;
\LF 960,1265,1075,1278,cL,dR;
\BR 958,1165,1012,1120,cK;
\BR 958,1165,1025,1195,cL;
\BR 1025,1195,1045,1180,cK;
\BR 1045,1180,1055,1165,cL;
\LF 1055,1165,1075,1155,cL,dP;
\LF 1055,1165,1075,1172,cL,dS;
\LF 1045,1180,1118,1190,cC,dP;
\LF 1025,1195,1075,1208,cL,dS;
\LF 1025,1195,1075,1225,cL,dB;
\BR 1012,1120,1058,1105,cK;
\BR 1012,1120,1058,1138,cE;
\LF 1058,1138,1202,1138,cE,dB;
\BR 1058,1105,1135,1102,cK;
\BR 1135,1102,1158,1085,cL;
\BR 1158,1085,1175,1065,cK;
\LF 1175,1065,1202,1050,cL,dR;
\LF 1175,1065,1202,1067,cS,dR;
\LF 1158,1085,1202,1084,cL,dB;
\LF 1135,1102,1202,1102,cL,dB;
\LF 1135,1102,1202,1120,cL,dB;
\BR 765,1450,845,1430,cK;
\LF 765,1450,800,1472,cS,dHd;
\BR 845,1430,868,1390,cK;
\LF 845,1430,863,1453,cT,dR;
\BR 868,1390,903,1370,cK;
\LF 868,1390,928,1437,cA,dR;
\BR 903,1370,925,1357,cK;
\LF 925,1357,968,1348,cG,dLB;
\LF 925,1357,990,1365,cS,dR;
\LF 903,1370,990,1383,cS,dR;
\BR 903,1370,912,1410,cL;
\LF 912,1410,947,1400,cL,dB;
\LF 912,1410,927,1418,cS,dO;
\RS 1245,100; \RS 1245,117; \RS 1245,134;
\BS 1203,152;
\end{scope}
\end{scope}

%%%%%%%%%%%%%%%% PANEL F
\begin{scope}[brn,shift={(951.4,659.5)}]
\begin{scope}[xscale=0.3155,yscale=0.4311]
\draw[cK] (103,1448) -- (168,1448);
\BR 168,1448,253,1430,cL;
\LF 168,1448,316,1468,cL,dO;
\BR 253,1430,383,1378,cL;
\LF 253,1430,610,1452,cL,dO;
\BR 383,1378,468,1332,cL;
\LF 383,1378,463,1437,cL,dP;
\BR 468,1332,525,1275,cL;
\LF 468,1332,560,1420,cL,dO;
\BR 525,1275,543,1205,cL;
\BR 525,1275,563,1380,cL;
\BR 563,1380,600,1365,cL;
\LF 600,1365,658,1357,cL,dO;
\LF 600,1365,658,1373,cL,dB;
\LF 563,1380,658,1389,cL,dHe;
\LF 563,1380,610,1405,cL,dP;
\BR 543,1205,593,1098,cL;
\LF 543,1205,610,1342,cL,dO;
\BR 593,1098,625,967,cK;
\BR 593,1098,625,1300,cL;
\BR 625,1300,640,1285,cL;
\BR 640,1285,668,1275,cL;
\LF 668,1275,707,1262,cL,dP;
\LF 668,1275,707,1278,cL,dB;
\LF 640,1285,707,1294,cL,dP;
\LF 625,1300,658,1310,cL,dB;
\LF 625,1300,658,1325,cL,dB;
\BR 593,1098,718,1230,cL;
\BR 718,1230,752,1200,cL;
\LF 718,1230,756,1247,cL,dR;
\BR 752,1200,835,1188,cL;
\LF 752,1200,805,1230,cL,dR;
\LF 835,1188,1000,1215,cL,dR;
\BR 835,1188,855,1155,cL;
\LF 855,1155,951,1199,cL,dR;
\BR 855,1155,913,1125,cL;
\BR 913,1125,962,1095,cK;
\BR 913,1125,968,1160,cL;
\BR 968,1160,975,1145,cK;
\LF 975,1145,1000,1136,cE,dB;
\LF 975,1145,1000,1151,cL,dB;
\LF 968,1160,1000,1167,cL,dB;
\LF 913,1125,1000,1183,cL,dB;
\BR 962,1095,1022,1095,cK;
\BR 1022,1095,1035,1070,cK;
\BR 1035,1070,1065,1058,cA;
\LF 1065,1058,1098,1056,cA,dB;
\LF 1065,1058,1098,1072,cA,dB;
\LF 1035,1070,1098,1088,cL,dHc;
\BR 1022,1095,1035,1112,cA;
\LF 1035,1112,1048,1104,cL,dB;
\LF 1035,1112,1098,1120,cA,dB;
\BR 625,967,645,915,cK;
\BR 625,967,645,1015,cK;
\BR 645,1015,892,1000,cL;
\LF 892,1000,1000,993,cL,dR;
\LF 892,1000,951,1008,cL,dR;
\BR 645,1015,665,1032,cL;
\BR 665,1032,775,1032,cL;
\LF 775,1032,805,1025,cL,dR;
\LF 775,1032,805,1040,cL,dR;
\BR 645,915,670,870,cL;
\BR 645,915,670,955,cL;
\BR 670,955,698,940,cL;
\BR 698,940,722,920,cL;
\LF 722,920,756,912,cL,dP;
\LF 722,920,756,928,cL,dP;
\BR 698,940,790,952,cL;
\LF 790,952,805,945,cL,dO;
\LF 790,952,795,960,cL,dO;
\LF 670,955,853,976,cA,dR;
\LF 670,870,903,881,cS,dP;
\BR 670,870,690,850,cK;
\BR 690,850,707,820,cK;
\BR 690,850,730,855,cL;
\BR 730,855,780,840,cL;
\LF 780,840,805,832,cL,dO;
\LF 780,840,805,848,cL,dO;
\LF 730,855,756,864,cL,dO;
\BR 707,820,718,785,cL;
\BR 707,820,755,810,cL;
\LF 755,810,805,802,cL,dR;
\LF 755,810,805,818,cL,dP;
\BR 718,785,748,750,cL;
\LF 718,785,805,787,cL,dB;
\BR 748,750,782,720,cK;
\BR 782,720,795,685,cK;
\LF 782,720,853,770,cA,dR;
\BR 795,685,848,660,cK;
\BR 848,660,882,592,cL;
\BR 848,660,912,730,cL;
\BR 912,730,960,698,cL;
\LF 960,698,1000,690,cL,dR;
\LF 960,698,1000,706,cL,dR;
\LF 912,730,951,722,cL,dP;
\BR 912,730,937,746,cL;
\LF 937,746,951,738,cL,dO;
\LF 937,746,951,754,cL,dO;
\BR 882,592,882,535,cK;
\BR 882,592,960,650,cL;
\BR 960,650,1165,668,cL;
\LF 1165,668,1197,660,cL,dO;
\LF 1165,668,1197,676,cL,dO;
\BR 960,650,972,630,cL;
\LF 972,630,1048,612,cA,dP;
\LF 972,630,1000,628,cL,dP;
\LF 972,630,1000,643,cL,dB;
\BR 882,535,895,520,cL;
\BR 895,520,912,475,cL;
\BR 895,520,975,580,cL;
\BR 912,475,922,450,cK;
\BR 912,475,928,510,cL;
\LF 928,510,951,501,cL,dR;
\LF 928,510,951,517,cL,dR;
\BR 922,450,985,447,cK;
\LF 922,450,1000,485,cL,dB;
\LF 985,447,1000,469,cA,dO;
\BR 985,447,1060,422,cK;
\BR 975,580,998,552,cL;
\BR 998,552,1030,541,cL;
\LF 1030,541,1048,533,cL,dP;
\LF 1030,541,1048,549,cL,dP;
\LF 998,552,1098,564,cT,dP;
\LF 975,580,1000,580,cL,dP;
\LF 975,580,1000,596,cL,dS;
\BR 1060,422,1083,355,cK;
\LF 1060,422,1293,454,cE,dB;
\BR 1083,355,1118,316,cL;
\BR 1083,355,1090,430,cK;
\BR 1090,430,1165,430,cL;
\LF 1165,430,1195,422,cU,dP;
\LF 1165,430,1245,438,cL,dO;
\BR 1083,355,1158,392,cL;
\BR 1158,392,1323,378,cL;
\LF 1323,378,1342,358,cL,dR;
\LF 1323,378,1342,374,cL,dR;
\LF 1323,378,1342,390,cL,dR;
\LF 1158,392,1245,406,cL,dR;
\BR 1118,316,1178,290,cL;
\LF 1118,316,1195,342,cL,dP;
\BR 1178,290,1232,255,cL;
\BR 1232,255,1250,205,cL;
\BR 1250,205,1275,170,cL;
\LF 1250,205,1293,215,cL,dG;
\LF 1250,205,1342,231,cL,dG;
\BR 1275,170,1298,140,cK;
\BR 1298,140,1310,118,cK;
\LF 1310,118,1342,104,cL,dG;
\LF 1310,118,1342,120,cCa,dG;
\BR 1298,140,1310,150,cL;
\LF 1310,150,1342,136,cL,dG;
\LF 1310,150,1342,152,cL,dG;
\LF 1275,170,1342,168,cL,dG;
\BR 1275,170,1290,192,cL;
\LF 1290,192,1342,184,cAc,dG;
\LF 1290,192,1342,200,cL,dG;
\BR 1232,255,1280,283,cL;
\BR 1280,283,1298,262,cL;
\BR 1298,262,1320,255,cCa;
\LF 1320,255,1342,247,cL,dG;
\LF 1320,255,1342,263,cL,dG;
\LF 1298,262,1342,279,cM,dG;
\LF 1280,283,1342,295,cL,dG;
\LF 1280,283,1293,310,cL,dG;
\LF 1232,255,1342,326,cL,dG;
\RS 1365,358; \RS 1365,374; \RS 1365,390;
\BS 1267,406;
\end{scope}
\end{scope}

%%%%%%%%%%%%%%%% LABELS
\node[ptitle] (la) at (110,17.7) {A};
\node[ptitle] (ta) at (178.3,54.7) {PB2};
\node[ptitle] (lb) at (570.5,18.9) {B};
\node[ptitle] (tb) at (662.7,54.7) {PB1};
\node[ptitle] (lc) at (1144.7,16.8) {C};
\node[ptitle] (tc) at (1184.8,56.8) {PA};
\node[ptitle] (ld) at (81.7,685.4) {D};
\node[ptitle] (td) at (168.3,741.4) {NP};
\node[ptitle] (le) at (574.6,685.4) {E};
\node[ptitle] (te) at (656.1,743.6) {M};
\node[ptitle] (lf) at (1089.6,685.4) {F};
\node[ptitle] (tf) at (1129.7,740.1) {NS};

\node[cl] (cb) at (1038,51) {Clade 2.3.4.4b\\H5N1};
\node[cl] (cc) at (1507,91) {Clade 2.3.4.4b\\H5N1};
\node[cl] (cd) at (473,753) {Clade 2.3.4.4b\\H5N1};
\node[cl] (cf) at (1441,747.5) {Clade 2.3.4.4b\\H5N1};

% tree scales
\node[tsl] (tsa) at (187.3,511.9) {Tree scale};
\draw[line width=0.9pt] (213.3,514) -- (243.3,514);
\node[tsl] (tsan) at (228.3,507.7) {4};
\node[tsl] (tsb) at (718.8,513.1) {Tree scale};
\draw[line width=0.9pt] (745.1,515.6) -- (772.1,515.6);
\node[tsl] (tsbn) at (758.4,508.9) {3};
\node[tsl] (tsc) at (1190.6,486.6) {Tree scale};
\draw[line width=0.9pt] (1217.3,488.7) -- (1248.2,488.7);
\node[tsl] (tscn) at (1232.1,482.4) {4};
\node[tsl] (tsd) at (52.3,1246.7) {Tree scale};
\draw[line width=0.9pt] (79,1249.3) -- (97.7,1249.3);
\node[tsl] (tsdn) at (88.3,1242.4) {1};
\node[tsl] (tse) at (653.4,1239.3) {Tree scale};
\draw[line width=0.9pt] (676.6,1241.5) -- (700.4,1241.5);
\node[tsl] (tsen) at (688.1,1235) {4};
\node[tsl] (tsf) at (1041.3,1219.1) {Tree scale};
\draw[line width=0.9pt] (1070.7,1222.1) -- (1102.2,1222.1);
\node[tsl] (tsfn) at (1086.4,1214.8) {2};

% axes
\draw[axline] (194.3,636) -- (473.3,636);
\foreach \xx/\tt in {265/2000,301/2005,337.3/2010,374/2015,410/2020,446.7/2025}
  \node[axl] at (\xx,647.7) {\tt};
\draw[axline] (741.7,638.5) -- (1010.6,638.5);
\foreach \xx/\tt in {766.9/2000,810.3/2005,854.1/2010,897.8/2015,941.5/2020,984.9/2025}
  \node[axl] at (\xx,648.6) {\tt};
\draw[axline] (1245.8,636) -- (1433.3,636);
\foreach \xx/\tt in {1267/2000,1344.8/2010,1423/2020}
  \node[axl] at (\xx,646.9) {\tt};
\draw[axline] (75.3,1300.5) -- (449,1300.5);
\foreach \xx/\tt in {83.3/2005,174/2010,264.3/2015,356/2020,446/2025}
  \node[axl] at (\xx,1308.3) {\tt};
\draw[axline] (624.4,1298.4) -- (926.8,1298.4);
\foreach \xx/\tt in {664.3/1990,722.6/2000,780.5/2010,839/2020,896.7/2030}
  \node[axl] at (\xx,1306.2) {\tt};
\draw[axline] (1001.9,1299.7) -- (1412,1299.7);
\foreach \xx/\tt in {1017.7/2000,1095/2005,1172.3/2010,1249.6/2015,1326.8/2020,1404.1/2025}
  \node[axl] at (\xx,1309.6) {\tt};

%%%%%%%%%%%%%%%% LEGEND
\foreach \sx/\tx/\cc/\tt in {11/41/cL/Laridae,179/210/cS/Scolopacidae,389/419/cA/Anatidae,571/601/cC/Charadriidae,774/805/cG/Alcidae,969/999/cT/Charadriiformes,1186/1217/cCi/Ciconiidae,1395/1424/cCa/Canidae}{
  \fill[\cc] (\sx,1354) rectangle ++(20,17);
  \node[legt] at (\tx,1362.9) {\itshape\tt};
}
\foreach \sx/\tx/\cc/\tt in {11/41/cSu/Sulidae,179/210/cPh/Phasianidae,389/419/cM/Mustelidae,571/601/cAc/Accipitridae,774/805/cH/Hominidae}{
  \fill[\cc] (\sx,1385.5) rectangle ++(20,17);
  \node[legt] at (\tx,1394.3) {\itshape\tt};
}
\fill[cE] (969,1385.5) rectangle ++(20,17);
\node[legt] (lenv) at (999,1394.3) {Environment};
\fill[cU] (1186,1385.5) rectangle ++(20,17);
\node[legt] (lun) at (1217,1394.3) {Unidentified species};
\foreach \sx/\tx/\cc/\tt in {20/41/dPk/H1N1,189/210/dHa/H1N2,400/419/dHb/H1N3,581/601/dY/H3N8,786/805/dPe/H4N6,981/1000/dL/H4N7,1198/1217/dG/H5N1,1404/1424/dHc/H5N8}{
  \fill[\cc] (\sx,1432.6) ellipse [x radius=8.5,y radius=9];
  \node[legt] at (\tx,1432.6) {\tt};
}
\foreach \sx/\tx/\cc/\tt in {20/41/dGr/H6N1,189/210/dLP/H6N2,400/419/dHd/H9N1,581/601/dLB/H11N9,786/805/dB/H13N2,981/1000/dHe/H13N3,1198/1217/dO/H13N6,1404/1424/dP/H13N8}{
  \fill[\cc] (\sx,1465.5) ellipse [x radius=8.5,y radius=9];
  \node[legt] at (\tx,1465.5) {\tt};
}
\fill[dS] (20,1501.9) ellipse [x radius=8.5,y radius=9];
\node[legt] (l139) at (41,1501.9) {H13N9};
\fill[dR] (189,1501.9) ellipse [x radius=8.5,y radius=9];
\node[legt] (l163) at (210,1501.9) {H16N3};
\node[rstar,minimum size=26pt] (lrs) at (402.5,1501) {};
\node[legt] (lrt) at (424,1501.9) {Viruses detected in YRD in this study};
\node[bstar,minimum size=26pt] (lbs) at (874.8,1501) {};
\node[legt] (lbt) at (896,1501.9) {H16N3 virus detected in YRD previously};
\end{tikzpicture}
\end{document}
